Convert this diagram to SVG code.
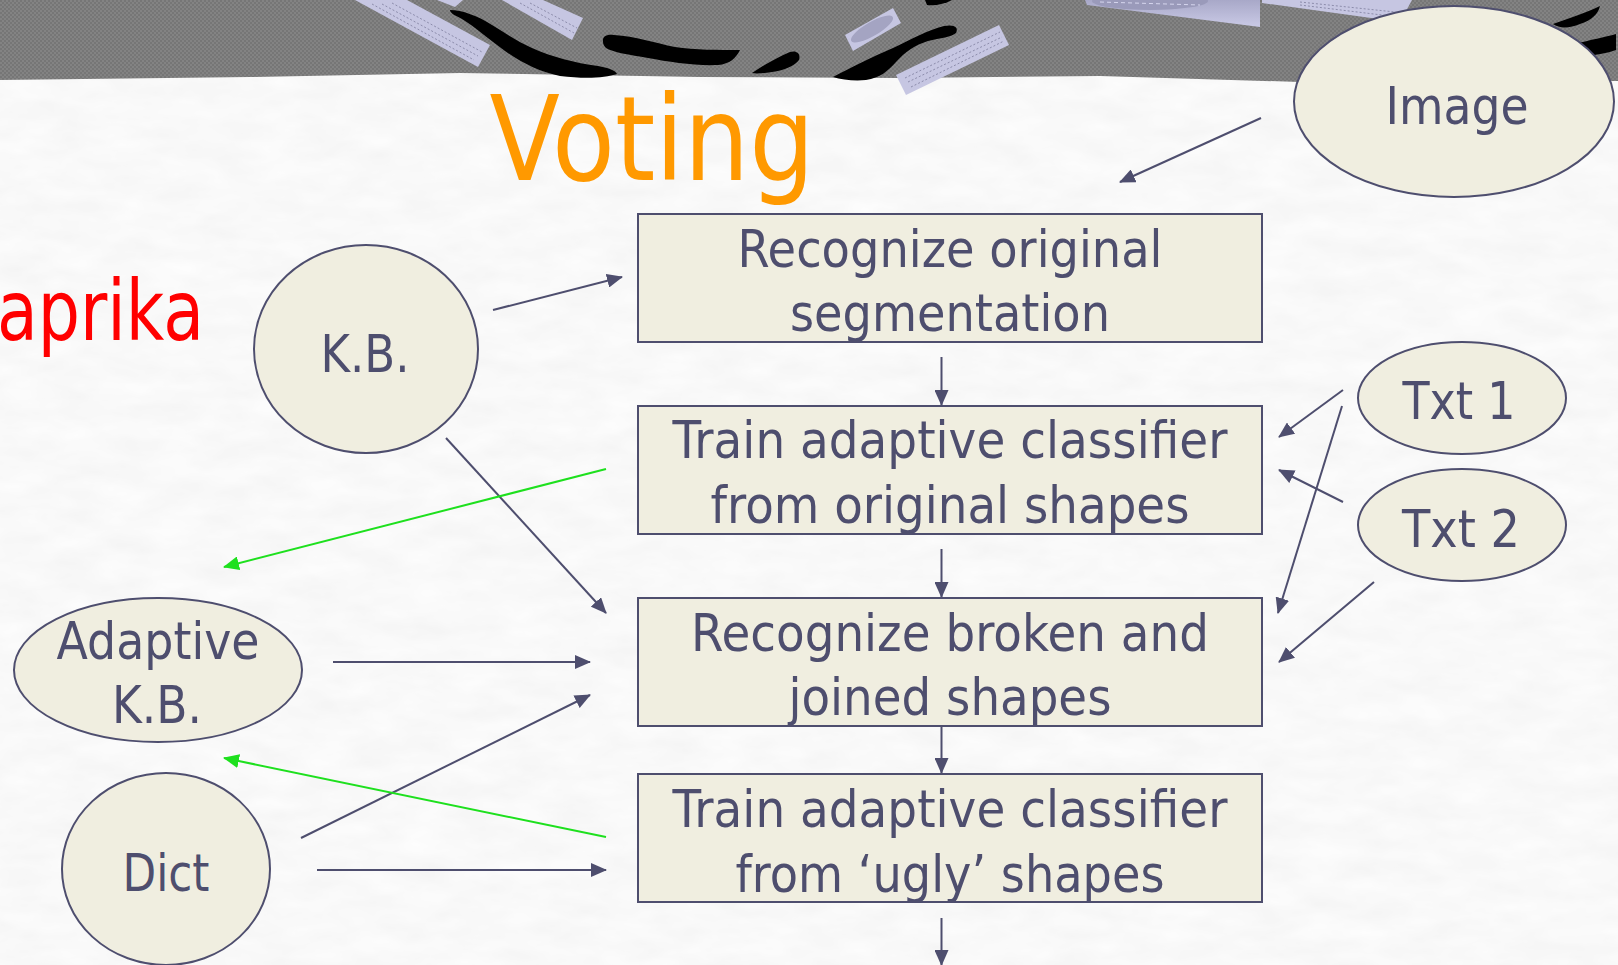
<svg xmlns="http://www.w3.org/2000/svg" width="1618" height="965" viewBox="0 0 1618 965">
  <defs>
    <style>
      .node { fill: #f0eee0; stroke: #4e4e6e; stroke-width: 2; }
      .lbl { font-family: "DejaVu Sans", "Liberation Sans", sans-serif; fill: #4e4e6e; text-anchor: middle; }
      .box { font-size: 51px; }
      .oval { font-size: 52px; }
      .conn { stroke: #4e4e6e; stroke-width: 2; fill: none; marker-end: url(#arrow); }
      .feed { stroke: #1ee01e; stroke-width: 2; fill: none; marker-end: url(#arrowGreen); }
      .paper { fill: #c6c6e2; }
      .dots { stroke: #8c8cab; stroke-width: 1; stroke-dasharray: 2 2; fill: none; }
      .ink { fill: #000000; }
    </style>
    <marker id="arrow" viewBox="0 0 16 14" refX="15" refY="7" markerWidth="16" markerHeight="14" markerUnits="userSpaceOnUse" orient="auto">
      <path d="M0,0 L16,7 L0,14 Z" fill="#4e4e6e"/>
    </marker>
    <marker id="arrowGreen" viewBox="0 0 16 14" refX="15" refY="7" markerWidth="16" markerHeight="14" markerUnits="userSpaceOnUse" orient="auto">
      <path d="M0,0 L16,7 L0,14 Z" fill="#1ee01e"/>
    </marker>
    <pattern id="checker" width="4" height="4" patternUnits="userSpaceOnUse">
      <rect width="4" height="4" fill="#838383"/>
      <rect width="2" height="2" fill="#767676"/>
      <rect x="2" y="2" width="2" height="2" fill="#767676"/>
    </pattern>
    <linearGradient id="curl" x1="0" y1="0" x2="0" y2="1">
      <stop offset="0" stop-color="#a8a8c8"/>
      <stop offset="1" stop-color="#cacae6"/>
    </linearGradient>
    <filter id="fibre" x="0" y="0" width="100%" height="100%">
      <feTurbulence type="fractalNoise" baseFrequency="0.02 0.05" numOctaves="3" seed="7"/>
      <feColorMatrix type="matrix" values="0.09 0 0 0 0.9  0.09 0 0 0 0.9  0.09 0 0 0 0.9  0 0 0 0 1"/>
    </filter>
  </defs>

  <!-- paper background -->
  <rect x="0" y="0" width="1618" height="965" fill="#f0f0f0"/>
  <rect x="0" y="0" width="1618" height="965" filter="url(#fibre)"/>

  <!-- grey header band with torn lower edge -->
  <path d="M0,0 H1618 V81 L1460,82 L1300,82 L1100,76 L900,78 L700,77 L460,73 L250,77 L0,80 Z" fill="url(#checker)"/>

  <!-- header decoration: paper strips and ink strokes -->
  <g id="header-art">
    <polygon class="paper" points="355,0 478,67 490,45 407,0"/>
    <path class="dots" d="M382,4 L478,56 M392,3 L482,52 M372,4 L474,60"/>
    <polygon class="paper" points="437,0 455,7 463,0"/>
    <polygon class="paper" points="502,0 572,40 583,18 543,0"/>
    <path class="dots" d="M520,3 L574,33 M530,3 L577,28"/>
    <polygon class="paper" points="845,35 893,8 901,23 853,51"/>
    <ellipse cx="872" cy="29" rx="24" ry="7" transform="rotate(-30 872 29)" fill="#a4a4c2"/>
    <polygon class="paper" points="896,75 999,25 1009,45 906,95"/>
    <path class="dots" d="M905,78 L1000,32 M908,82 L1002,37 M911,87 L1004,41"/>
    <polygon points="1085,0 1260,0 1260,27 1087,5" fill="url(#curl)"/>
    <ellipse cx="1150" cy="1" rx="58" ry="9" fill="#9a9aba"/>
    <path d="M1100,2 L1200,5" stroke="#d6d6ee" stroke-width="1" stroke-dasharray="4 3"/>
    <polygon class="paper" points="1262,0 1412,0 1400,22 1262,3"/>
    <path class="dots" d="M1300,2 L1395,12 M1300,5 L1390,16"/>

    <path class="ink" d="M450,10 C462,10 478,16 492,25 C505,33 518,42 532,48 C552,57 575,63 598,66 C608,68 615,70 617,74 C605,78 585,79 560,76 C540,72 522,63 505,51 C490,40 475,27 462,19 C454,15 450,13 450,10 Z"/>
    <path class="ink" d="M603,42 C602,36 607,34 614,35 C635,36 655,43 675,47 C695,50 718,50 740,50 C736,58 730,64 718,65 C695,66 670,62 648,58 C630,55 612,52 606,48 C604,46 603,44 603,42 Z"/>
    <path class="ink" d="M752,73 C762,66 776,58 790,52 C797,50 801,54 799,60 C794,66 785,70 772,72 C764,73 757,74 752,73 Z"/>
    <path class="ink" d="M833,77 C850,68 872,57 893,48 C910,40 928,30 944,26 C954,24 959,27 956,33 C952,37 940,38 928,41 C915,45 905,52 896,62 C888,71 880,78 866,80 C855,81 842,80 833,77 Z"/>
    <path class="ink" d="M925,0 H952 C945,4 935,6 927,5 Z"/>
    <path class="ink" d="M1553,24 C1570,18 1588,12 1600,6 C1598,14 1592,20 1580,24 C1570,28 1560,29 1553,24 Z"/>
    <path class="ink" d="M1575,44 C1590,40 1605,37 1616,34 L1616,50 C1605,54 1592,56 1582,55 C1576,52 1574,48 1575,44 Z"/>
  </g>

  <!-- slide title and side title -->
  <text x="652" y="180" font-family="DejaVu Sans, Liberation Sans, sans-serif" font-size="117" fill="#ff9900" text-anchor="middle" textLength="325" lengthAdjust="spacingAndGlyphs">Voting</text>
  <text x="-3" y="340" font-family="DejaVu Sans, Liberation Sans, sans-serif" font-size="84" fill="#ff0000" textLength="207" lengthAdjust="spacingAndGlyphs">aprika</text>

  <!-- connectors -->
  <g id="connectors">
    <line class="conn" x1="1261" y1="118" x2="1120" y2="182"/>
    <line class="conn" x1="493" y1="310" x2="622" y2="277"/>
    <line class="conn" x1="446" y1="438" x2="606" y2="613"/>
    <line class="conn" x1="941.5" y1="357" x2="941.5" y2="405"/>
    <line class="conn" x1="941.5" y1="549" x2="941.5" y2="597"/>
    <line class="conn" x1="941.5" y1="726" x2="941.5" y2="773"/>
    <line class="conn" x1="941.5" y1="918" x2="941.5" y2="965"/>
    <line class="conn" x1="1343" y1="390" x2="1279" y2="437"/>
    <line class="conn" x1="1342" y1="406" x2="1278" y2="613"/>
    <line class="conn" x1="1343" y1="502" x2="1279" y2="470"/>
    <line class="conn" x1="1374" y1="582" x2="1279" y2="662"/>
    <line class="conn" x1="333" y1="662" x2="590" y2="662"/>
    <line class="conn" x1="301" y1="838" x2="590" y2="695"/>
    <line class="conn" x1="317" y1="870" x2="606" y2="870"/>
    <line class="feed" x1="606" y1="469" x2="224" y2="567"/>
    <line class="feed" x1="606" y1="837" x2="224" y2="758"/>
  </g>

  <!-- process steps -->
  <g id="step-recognize-original">
    <rect class="node" x="638" y="214" width="624" height="128"/>
    <text class="lbl box" x="950" y="267" textLength="425" lengthAdjust="spacingAndGlyphs">Recognize original</text>
    <text class="lbl box" x="950" y="331" textLength="320" lengthAdjust="spacingAndGlyphs">segmentation</text>
  </g>
  <g id="step-train-original">
    <rect class="node" x="638" y="406" width="624" height="128"/>
    <text class="lbl box" x="950" y="458" textLength="555" lengthAdjust="spacingAndGlyphs">Train adaptive classifier</text>
    <text class="lbl box" x="950" y="523" textLength="479" lengthAdjust="spacingAndGlyphs">from original shapes</text>
  </g>
  <g id="step-recognize-broken">
    <rect class="node" x="638" y="598" width="624" height="128"/>
    <text class="lbl box" x="950" y="651" textLength="518" lengthAdjust="spacingAndGlyphs">Recognize broken and</text>
    <text class="lbl box" x="950" y="715" textLength="323" lengthAdjust="spacingAndGlyphs">joined shapes</text>
  </g>
  <g id="step-train-ugly">
    <rect class="node" x="638" y="774" width="624" height="128"/>
    <text class="lbl box" x="950" y="827" textLength="555" lengthAdjust="spacingAndGlyphs">Train adaptive classifier</text>
    <text class="lbl box" x="950" y="892" textLength="429" lengthAdjust="spacingAndGlyphs">from ‘ugly’ shapes</text>
  </g>

  <!-- data sources -->
  <g id="image">
    <ellipse class="node" cx="1454" cy="101.5" rx="160" ry="95.5"/>
    <text class="lbl oval" x="1457" y="124" textLength="143" lengthAdjust="spacingAndGlyphs">Image</text>
  </g>
  <g id="kb">
    <ellipse class="node" cx="366" cy="349" rx="112" ry="104"/>
    <text class="lbl oval" x="365" y="372" textLength="89" lengthAdjust="spacingAndGlyphs">K.B.</text>
  </g>
  <g id="txt1">
    <ellipse class="node" cx="1462" cy="398" rx="104" ry="56"/>
    <text class="lbl oval" x="1459" y="419" font-size="50" textLength="113" lengthAdjust="spacingAndGlyphs">Txt 1</text>
  </g>
  <g id="txt2">
    <ellipse class="node" cx="1462" cy="525" rx="104" ry="56"/>
    <text class="lbl oval" x="1461" y="547" font-size="50" textLength="118" lengthAdjust="spacingAndGlyphs">Txt 2</text>
  </g>
  <g id="adaptive-kb">
    <ellipse class="node" cx="158" cy="670" rx="144" ry="72"/>
    <text class="lbl oval" x="158" y="659" textLength="203" lengthAdjust="spacingAndGlyphs">Adaptive</text>
    <text class="lbl oval" x="157" y="723" textLength="90" lengthAdjust="spacingAndGlyphs">K.B.</text>
  </g>
  <g id="dict">
    <ellipse class="node" cx="166" cy="869" rx="104" ry="96"/>
    <text class="lbl oval" x="166" y="891" textLength="87" lengthAdjust="spacingAndGlyphs">Dict</text>
  </g>
</svg>
